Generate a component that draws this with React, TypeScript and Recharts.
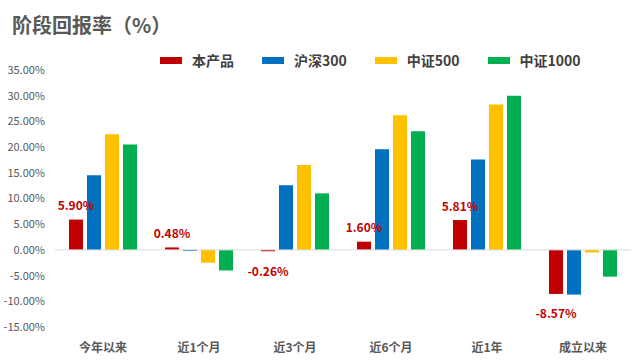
import { Bar, BarChart, LabelList, Legend, ReferenceLine, XAxis, YAxis } from "recharts";

const categories = ["今年以来", "近1个月", "近3个月", "近6个月", "近1年", "成立以来"];
const product = [5.9, 0.48, -0.26, 1.6, 5.81, -8.57];
const hs300 = [14.5, -0.2, 12.6, 19.6, 17.6, -8.7];
const zz500 = [22.5, -2.5, 16.5, 26.2, 28.3, -0.5];
const zz1000 = [20.5, -4.0, 11.0, 23.1, 30.0, -5.2];
const yTicks = [-15, -10, -5, 0, 5, 10, 15, 20, 25, 30, 35];

const series = [
  { key: "product", name: "本产品", color: "#C00000" },
  { key: "hs300", name: "沪深300", color: "#0070C0" },
  { key: "zz500", name: "中证500", color: "#FFC000" },
  { key: "zz1000", name: "中证1000", color: "#00B050" },
];

const data = categories.map((name, i) => ({
  name,
  product: product[i],
  hs300: hs300[i],
  zz500: zz500[i],
  zz1000: zz1000[i],
}));

const FONT = '"Noto Sans CJK SC", "Noto Sans", sans-serif';

function renderLegend() {
  return (
    <div
      style={{
        display: "flex",
        alignItems: "center",
        height: 20,
        paddingLeft: 160,
        gap: 28,
        fontFamily: FONT,
        fontSize: 14,
        fontWeight: 700,
        color: "#404040",
      }}
    >
      {series.map((s) => (
        <div key={s.key} style={{ display: "flex", alignItems: "center" }}>
          <span style={{ width: 22, height: 7, background: s.color, marginRight: 10 }} />
          <span>{s.name}</span>
        </div>
      ))}
    </div>
  );
}

function ValueLabel(props: any) {
  const { x, y, width, height, value } = props;
  const top = Math.min(y, y + height);
  const bottom = Math.max(y, y + height);
  const ty = value >= 0 ? top - 15 : bottom + 19;
  return (
    <text
      x={x + width / 2}
      y={ty}
      textAnchor="middle"
      dominantBaseline="central"
      fill="#C00000"
      fontSize={12}
      fontWeight={700}
      fontFamily={FONT}
    >
      {value.toFixed(2)}%
    </text>
  );
}

export default function App() {
  return (
    <div
      style={{
        position: "absolute",
        left: 0,
        top: 0,
        width: 641,
        height: 360,
        background: "#fff",
        fontFamily: FONT,
      }}
    >
      <div
        style={{
          position: "absolute",
          left: 12,
          top: 15,
          fontSize: 20,
          lineHeight: "20px",
          fontWeight: 700,
          color: "#595959",
        }}
      >
        阶段回报率（%）
      </div>
      <BarChart
        width={641}
        height={360}
        data={data}
        margin={{ top: 50, right: 10, bottom: 0, left: 0 }}
        barSize={14}
        barGap={4}
      >
        <Legend
          verticalAlign="top"
          align="left"
          content={renderLegend}
          wrapperStyle={{ top: 50, left: 0, width: 641, height: 20 }}
        />
        <XAxis
          dataKey="name"
          height={33}
          axisLine={false}
          tickLine={false}
          tickSize={0}
          tickMargin={16}
          interval={0}
          tick={{ fill: "#595959", fontSize: 12, fontWeight: 700, fontFamily: FONT }}
        />
        <YAxis
          width={55}
          domain={[-15, 35]}
          ticks={yTicks}
          axisLine={false}
          tickLine={false}
          tickSize={0}
          tickMargin={10}
          tickFormatter={(v: number) => `${v.toFixed(2)}%`}
          tick={{ fill: "#595959", fontSize: 11, fontFamily: FONT }}
        />
        <ReferenceLine y={0} stroke="#D9D9D9" strokeWidth={1} />
        {series.map((s) => (
          <Bar key={s.key} dataKey={s.key} name={s.name} fill={s.color} isAnimationActive={false}>
            {s.key === "product" && <LabelList dataKey="product" content={ValueLabel} />}
          </Bar>
        ))}
      </BarChart>
    </div>
  );
}
